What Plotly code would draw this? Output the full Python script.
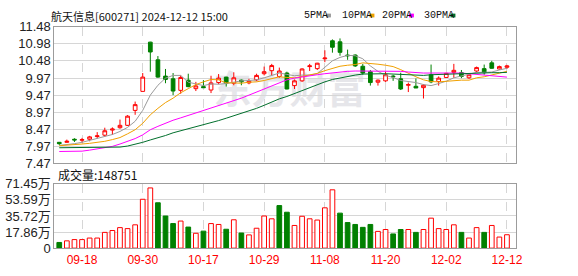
import plotly.graph_objects as go

W, H = 578, 276

dates = [
    "09-11", "09-12", "09-13", "09-18", "09-19", "09-20", "09-23", "09-24", "09-25", "09-26",
    "09-27", "09-30", "10-08", "10-09", "10-10", "10-11", "10-14", "10-15", "10-16", "10-17",
    "10-18", "10-21", "10-22", "10-23", "10-24", "10-25", "10-28", "10-29", "10-30", "10-31",
    "11-01", "11-04", "11-05", "11-06", "11-07", "11-08", "11-11", "11-12", "11-13", "11-14",
    "11-15", "11-18", "11-19", "11-20", "11-21", "11-22", "11-25", "11-26", "11-27", "11-28",
    "11-29", "12-02", "12-03", "12-04", "12-05", "12-06", "12-09", "12-10", "12-11", "12-12",
]

opens = [8.08, 8.08, 8.17, 8.14, 8.17, 8.25, 8.29, 8.44, 8.51, 8.58,
         9.02, 9.58, 11.03, 10.51, 10.03, 9.95, 9.61, 9.91, 9.66, 9.72,
         9.62, 9.84, 10.00, 9.82, 9.91, 9.83, 9.92, 10.10, 10.19, 10.02,
         10.12, 9.75, 9.89, 10.31, 10.25, 10.54, 11.07, 11.04, 10.65, 10.65,
         10.32, 10.16, 9.85, 9.89, 10.03, 9.95, 9.76, 9.73, 9.69, 10.07,
         9.87, 9.99, 10.14, 10.13, 9.98, 10.18, 10.25, 10.42, 10.24, 10.29]
highs = [8.09, 8.16, 8.20, 8.21, 8.27, 8.38, 8.51, 8.52, 8.75, 8.88,
         9.28, 10.12, 11.04, 10.62, 10.24, 10.12, 10.05, 10.10, 9.86, 9.91,
         10.04, 10.09, 10.01, 10.14, 9.93, 9.95, 10.10, 10.31, 10.39, 10.28,
         10.16, 9.93, 10.26, 10.39, 10.42, 10.79, 11.11, 11.14, 10.81, 10.67,
         10.39, 10.21, 9.93, 10.16, 10.07, 10.13, 9.84, 9.96, 9.79, 10.37,
         10.02, 10.13, 10.39, 10.21, 10.12, 10.31, 10.37, 10.48, 10.34, 10.36]
lows = [8.00, 8.07, 8.09, 8.07, 8.11, 8.20, 8.24, 8.30, 8.48, 8.56,
        8.89, 9.58, 10.16, 9.98, 9.82, 9.47, 9.51, 9.70, 9.59, 9.68,
        9.53, 9.79, 9.72, 9.76, 9.76, 9.79, 9.88, 10.05, 10.04, 9.98,
        9.64, 9.65, 9.86, 10.18, 10.21, 10.44, 10.72, 10.63, 10.51, 10.30,
        10.07, 9.75, 9.75, 9.86, 9.89, 9.62, 9.56, 9.68, 9.37, 9.82,
        9.75, 9.98, 9.98, 9.97, 9.95, 10.14, 10.07, 10.25, 10.22, 10.24]
closes = [8.04, 8.11, 8.15, 8.16, 8.24, 8.27, 8.42, 8.47, 8.58, 8.85,
          9.19, 10.00, 10.74, 10.00, 9.93, 9.59, 9.99, 9.72, 9.74, 9.69,
          9.83, 9.97, 9.82, 9.98, 9.86, 9.88, 10.05, 10.16, 10.34, 10.18,
          9.65, 9.89, 10.24, 10.33, 10.41, 10.56, 10.88, 10.73, 10.63, 10.33,
          10.12, 9.84, 9.91, 10.07, 10.01, 9.65, 9.78, 9.68, 9.76, 9.86,
          9.97, 10.11, 10.20, 10.02, 10.07, 10.28, 10.13, 10.26, 10.31, 10.33]
prev_close = 8.10

ma5 = [7.99, 8.01, 8.04, 8.08, 8.14, 8.19, 8.25, 8.31, 8.40, 8.52,
       8.70, 9.02, 9.47, 9.76, 9.97, 10.05, 10.05, 9.85, 9.80, 9.75,
       9.80, 9.79, 9.81, 9.86, 9.89, 9.90, 9.92, 9.98, 10.06, 10.12,
       10.08, 10.04, 10.06, 10.06, 10.10, 10.29, 10.48, 10.58, 10.64, 10.63,
       10.54, 10.33, 10.17, 10.05, 9.99, 9.90, 9.88, 9.84, 9.78, 9.75,
       9.81, 9.88, 9.98, 10.03, 10.07, 10.14, 10.14, 10.15, 10.21, 10.26]
ma10 = [7.98, 7.99, 8.01, 8.03, 8.05, 8.07, 8.11, 8.16, 8.22, 8.33,
        8.45, 8.64, 8.89, 9.08, 9.25, 9.38, 9.54, 9.66, 9.78, 9.86,
        9.93, 9.92, 9.83, 9.83, 9.82, 9.85, 9.86, 9.90, 9.96, 10.01,
        9.99, 9.98, 10.02, 10.06, 10.11, 10.19, 10.26, 10.32, 10.35, 10.37,
        10.42, 10.41, 10.38, 10.35, 10.31, 10.22, 10.11, 10.01, 9.92, 9.87,
        9.86, 9.88, 9.91, 9.91, 9.91, 9.98, 10.01, 10.07, 10.12, 10.17]
ma20 = [7.81, 7.81, 7.81, 7.82, 7.85, 7.88, 7.92, 7.96, 8.03, 8.10,
        8.19, 8.30, 8.45, 8.55, 8.65, 8.73, 8.80, 8.87, 8.94, 9.01,
        9.08, 9.15, 9.22, 9.29, 9.38, 9.47, 9.56, 9.66, 9.76, 9.85,
        9.92, 9.97, 10.01, 10.04, 10.07, 10.10, 10.13, 10.15, 10.17, 10.18,
        10.18, 10.18, 10.18, 10.18, 10.18, 10.17, 10.15, 10.13, 10.12, 10.12,
        10.12, 10.13, 10.13, 10.12, 10.10, 10.08, 10.06, 10.04, 10.02, 10.00]
ma30 = [7.92, 7.92, 7.92, 7.92, 7.92, 7.92, 7.92, 7.93, 7.94, 7.97,
        8.02, 8.08, 8.15, 8.21, 8.28, 8.36, 8.42, 8.47, 8.52, 8.58,
        8.65, 8.72, 8.79, 8.86, 8.93, 9.00, 9.08, 9.17, 9.27, 9.36,
        9.43, 9.52, 9.61, 9.70, 9.79, 9.86, 9.93, 9.98, 10.02, 10.06,
        10.09, 10.10, 10.10, 10.10, 10.09, 10.08, 10.06, 10.05, 10.05, 10.07,
        10.08, 10.09, 10.10, 10.10, 10.11, 10.12, 10.12, 10.13, 10.13, 10.14]

# volume in 万 (10k)
volumes = [6.3, 8.1, 9.5, 9.5, 11.2, 11.2, 17.5, 19.6, 22.8, 21.7,
           25.9, 54.3, 66.9, 50.4, 35.7, 27.3, 30.1, 23.4, 16.5, 18.9,
           27.3, 26.3, 21.0, 31.5, 16.8, 14.7, 22.1, 35.7, 32.6, 47.3,
           39.9, 25.2, 35.4, 32.6, 31.2, 44.8, 64.8, 38.9, 28.4, 26.3,
           23.1, 26.3, 18.6, 20.7, 15.8, 20.7, 20.7, 17.5, 20.7, 33.3,
           21.7, 20.7, 25.9, 17.5, 11.2, 22.8, 17.5, 25.2, 12.3, 14.88]
last_volume = "148751"

x_tick_dates = ["09-18", "09-30", "10-17", "10-29", "11-08", "11-20", "12-02", "12-12"]
price_ticks = [7.47, 7.97, 8.47, 8.97, 9.47, 9.97, 10.48, 10.98, 11.48]
price_labels = ["7.47", "7.97", "8.47", "8.97", "9.47", "9.97", "10.48", "10.98", "11.48"]
vol_ticks = [0, 17.86, 35.72, 53.59, 71.45]
vol_labels = ["0", "17.86万", "35.72万", "53.59万", "71.45万"]

title_text = "航天信息[600271] 2024-12-12 15:00"
ma_names = ["5PMA", "10PMA", "20PMA", "30PMA"]
ma_colors = ["#9a9a9a", "#f0a000", "#ff00ff", "#006f2c"]

RED = "#ff0000"
GREEN = "#008000"

idx = list(range(len(dates)))
tick_idx = [dates.index(d) for d in x_tick_dates]

fig = go.Figure()

fig.add_trace(go.Candlestick(
    x=idx, open=opens, high=highs, low=lows, close=closes,
    increasing=dict(line=dict(color=RED, width=1), fillcolor="#ffffff"),
    decreasing=dict(line=dict(color=GREEN, width=1), fillcolor=GREEN),
    whiskerwidth=0, xaxis="x", yaxis="y", showlegend=False, hoverinfo="skip",
))

for vals, col in zip([ma5, ma10, ma20, ma30], ma_colors):
    fig.add_trace(go.Scatter(x=idx, y=vals, mode="lines",
                             line=dict(color=col, width=1),
                             xaxis="x", yaxis="y", showlegend=False, hoverinfo="skip"))

pc = [prev_close] + closes[:-1]
up = [c >= p for c, p in zip(closes, pc)]
fig.add_trace(go.Bar(
    x=idx, y=volumes, width=0.62,
    marker=dict(color=["#ffffff" if u else GREEN for u in up],
                line=dict(color=[RED if u else GREEN for u in up], width=1)),
    xaxis="x2", yaxis="y2", showlegend=False, hoverinfo="skip",
))

xdom = [55 / W, 522 / W]
xr = [-0.65, 60.15]
grid = "#d6d6d6"
border = "#9c9c9c"

common_x = dict(domain=xdom, range=xr, tickvals=tick_idx, showgrid=True,
                gridcolor=grid, griddash="dash", gridwidth=1, showline=True,
                mirror=True, linecolor=border, linewidth=1, zeroline=False,
                ticks="", fixedrange=True)

fig.update_layout(
    width=W, height=H,
    margin=dict(l=0, r=0, t=0, b=0),
    paper_bgcolor="#ffffff", plot_bgcolor="#ffffff",
    showlegend=False,
    xaxis=dict(**common_x, anchor="y", showticklabels=False,
               rangeslider=dict(visible=False)),
    xaxis2=dict(**common_x, anchor="y2", ticktext=x_tick_dates,
                tickfont=dict(family="Liberation Sans", size=12, color=RED)),
    yaxis=dict(domain=[1 - 165 / H, 1 - 21 / H], range=[7.47, 11.48],
               tickvals=price_ticks, ticktext=price_labels, anchor="x",
               showgrid=True, gridcolor=grid, showline=True, mirror=True,
               linecolor=border, zeroline=False, ticks="",
               tickfont=dict(family="Liberation Sans", size=13, color="#222222")),
    yaxis2=dict(domain=[1 - 255 / H, 1 - 187 / H], range=[0, 71.45],
                tickvals=vol_ticks, ticktext=vol_labels, anchor="x2",
                showgrid=True, gridcolor=grid, showline=True, mirror=True,
                linecolor=border, zeroline=False, ticks="",
                tickfont=dict(family="Liberation Sans, Noto Sans CJK SC", size=13, color="#222222")),
)

ann = []
ann.append(dict(text=title_text, x=50 / W, y=1 - 9 / H, xref="paper", yref="paper",
                xanchor="left", yanchor="middle", showarrow=False,
                font=dict(family="Noto Sans CJK SC", size=11, color="#111111")))
ann.append(dict(text="成交量:" + last_volume, x=57 / W, y=1 - 177 / H, xref="paper", yref="paper",
                xanchor="left", yanchor="middle", showarrow=False,
                font=dict(family="Noto Sans CJK SC", size=12, color="#111111")))
leg_x = [306, 344, 385, 427]
leg_sq = [330, 374, 414, 456]
shapes = []
for name, col, lx, sx in zip(ma_names, ma_colors, leg_x, leg_sq):
    ann.append(dict(text=name, x=lx / W, y=1 - 9 / H, xref="paper", yref="paper",
                    xanchor="left", yanchor="middle", showarrow=False,
                    font=dict(family="Liberation Mono", size=10, color="#111111")))
    shapes.append(dict(type="rect", xref="paper", yref="paper",
                       x0=sx / W, x1=(sx + 5) / W, y0=1 - 11 / H, y1=1 - 7 / H,
                       fillcolor=col, line=dict(width=0)))

shapes.append(dict(type="rect", xref="x domain", yref="y domain",
                   x0=0.3, x1=0.72, y0=0.38, y1=0.66, layer="below",
                   line=dict(width=0), fillcolor="rgba(0,0,0,0)",
                   label=dict(text="东方财富", font=dict(family="Noto Sans CJK SC", size=38,
                                                       color="#e6e6ea", weight="bold"),
                              textposition="middle center")))

fig.update_layout(annotations=ann, shapes=shapes)

fig.write_html("out.html")
